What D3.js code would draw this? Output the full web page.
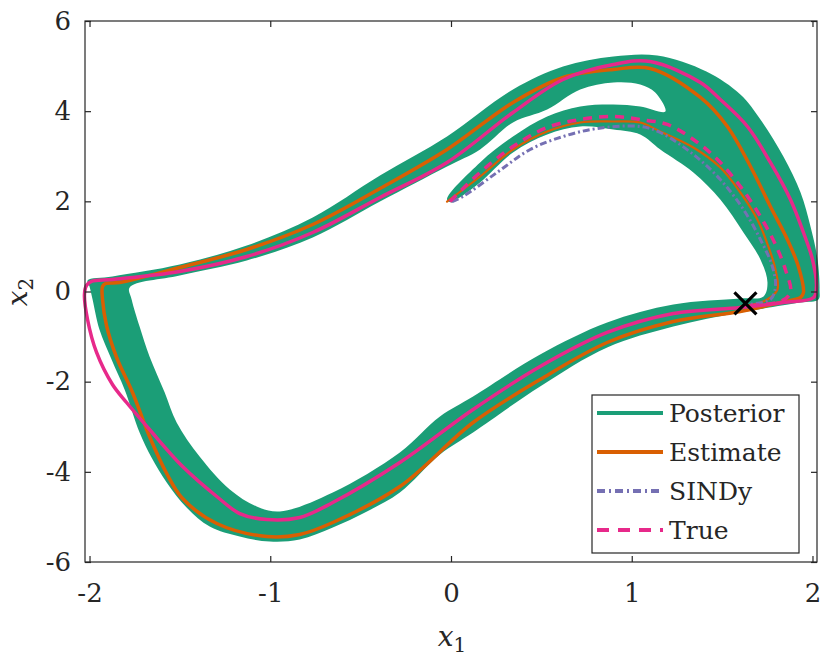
<!DOCTYPE html>
<html>
<head>
<meta charset="utf-8">
<script src="https://cdn.jsdelivr.net/npm/d3@7"></script>
<style>
body { margin: 0; background: #fff; }
text { font-family: "DejaVu Serif", serif; fill: #262626; }
</style>
</head>
<body>
<script>
var width = 830, height = 659;

// axis ticks
const xTicks = [-2, -1, 0, 1, 2];
const yTicks = [-6, -4, -2, 0, 2, 4, 6];

// posterior band: outer edge and the hole inside it (x1, x2)
const posteriorOuter = [
	[-2.011, 0.244], [-1.873, 0.333], [-1.501, 0.599], [-1.130, 1.020], [-0.765, 1.642],
	[-0.393, 2.573], [-0.022, 3.438], [0.343, 4.481], [0.620, 4.991], [0.898, 5.213],
	[1.141, 5.235], [1.413, 4.880], [1.601, 4.370], [1.712, 3.815], [1.839, 2.995],
	[1.934, 2.196], [1.989, 1.442], [2.028, 0.710], [2.039, 0.044], [2.033, -0.177],
	[1.934, -0.244], [1.601, -0.466], [1.230, -0.776], [0.864, -1.242], [0.493, -2.107],
	[0.122, -3.128], [-0.061, -3.616], [-0.283, -4.459], [-0.465, -4.880], [-0.654, -5.235],
	[-0.837, -5.501], [-1.003, -5.546], [-1.169, -5.435], [-1.335, -5.213], [-1.463, -4.791],
	[-1.573, -4.237], [-1.657, -3.682], [-1.723, -3.128], [-1.806, -2.174], [-1.878, -1.508],
	[-1.945, -0.843], [-1.983, -0.177], [-2.000, 0.111]
];
const posteriorHole = [
	[-1.778, 0.089], [-1.501, 0.355], [-1.130, 0.688], [-0.765, 1.198], [-0.393, 1.996],
	[-0.022, 2.773], [0.161, 3.150], [0.343, 3.749], [0.532, 4.037], [0.715, 4.481],
	[0.898, 4.636], [1.047, 4.592], [1.130, 4.414], [1.186, 3.993],
	[1.047, 4.104], [0.898, 4.148], [0.715, 4.104], [0.532, 3.882], [0.343, 3.438],
	[0.161, 2.862], [-0.022, 2.041], [0.006, 1.974],
	[0.033, 2.041], [0.161, 2.418], [0.343, 3.083], [0.532, 3.483], [0.715, 3.660],
	[0.898, 3.594], [1.047, 3.483], [1.158, 3.150], [1.341, 2.640], [1.490, 2.041],
	[1.618, 1.309], [1.712, 0.710], [1.751, 0.200], [1.729, -0.111],
	[1.601, -0.155], [1.230, -0.288], [0.864, -0.688], [0.493, -1.398], [0.122, -2.329],
	[-0.061, -2.773], [-0.283, -3.571], [-0.654, -4.459], [-0.947, -4.880], [-1.075, -4.769],
	[-1.224, -4.392], [-1.391, -3.660], [-1.518, -2.906], [-1.584, -2.240], [-1.668, -1.442],
	[-1.723, -0.776], [-1.767, -0.177]
];

// estimate: first pass from (0,2), then the settled cycle
const estimateTransient = [
	[-0.022, 1.996], [0.161, 2.551], [0.343, 3.150], [0.532, 3.549], [0.715, 3.749],
	[0.898, 3.771], [1.047, 3.749], [1.158, 3.549], [1.341, 3.194], [1.490, 2.751],
	[1.601, 2.196], [1.695, 1.597], [1.756, 0.998], [1.795, 0.488], [1.806, 0.044],
	[1.740, -0.200], [1.601, -0.333]
];
const estimateCycle = [
	[-1.911, 0.177], [-1.834, 0.200], [-1.501, 0.532], [-1.130, 0.932], [-0.765, 1.486],
	[-0.393, 2.285], [-0.022, 3.150], [0.343, 4.193], [0.620, 4.747], [0.898, 4.925],
	[1.102, 4.947], [1.380, 4.304], [1.529, 3.660], [1.657, 2.773], [1.767, 1.886],
	[1.861, 1.153], [1.922, 0.555], [1.950, -0.022], [1.934, -0.133], [1.823, -0.244],
	[1.601, -0.444], [1.230, -0.665], [0.864, -1.131], [0.493, -1.952], [0.122, -2.906],
	[-0.283, -4.326], [-0.654, -5.124], [-0.837, -5.390], [-1.019, -5.435], [-1.296, -5.146],
	[-1.485, -4.592], [-1.573, -4.037], [-1.668, -3.217], [-1.762, -2.240], [-1.850, -1.464],
	[-1.906, -0.754], [-1.928, -0.177], [-1.928, 0.111]
];

// SINDy first pass
const sindyTransient = [
	[0.006, 1.996], [0.066, 2.107], [0.255, 2.640], [0.438, 3.150], [0.620, 3.438],
	[0.809, 3.616], [1.047, 3.660], [1.158, 3.527], [1.341, 3.039], [1.490, 2.484],
	[1.618, 1.819], [1.712, 1.153], [1.778, 0.555], [1.795, 0.111], [1.767, -0.177],
	[1.629, -0.288]
];

// true system
const trueTransient = [
	[-0.006, 1.996], [0.161, 2.640], [0.343, 3.216], [0.532, 3.638], [0.715, 3.815],
	[0.898, 3.882], [1.047, 3.815], [1.197, 3.705], [1.341, 3.372], [1.463, 2.973],
	[1.562, 2.529], [1.645, 2.085], [1.728, 1.553], [1.795, 1.043], [1.850, 0.488],
	[1.878, -0.022], [1.823, -0.222], [1.629, -0.311]
];
const trueCycle = [
	[-1.989, 0.222], [-1.873, 0.266], [-1.501, 0.444], [-1.130, 0.776], [-0.765, 1.309],
	[-0.393, 2.085], [-0.022, 2.862], [0.343, 3.971], [0.620, 4.703], [0.898, 5.036],
	[1.102, 5.102], [1.380, 4.636], [1.490, 4.259], [1.640, 3.660], [1.767, 2.862],
	[1.878, 2.041], [1.950, 1.309], [2.000, 0.710], [2.022, 0.111], [2.006, -0.133],
	[1.839, -0.244], [1.601, -0.355], [1.230, -0.488], [0.864, -0.909], [0.493, -1.664],
	[0.122, -2.618], [-0.283, -3.793], [-0.654, -4.681], [-0.837, -5.013], [-1.019, -5.058],
	[-1.169, -4.925], [-1.296, -4.547], [-1.485, -3.882], [-1.668, -3.061], [-1.795, -2.462],
	[-1.873, -2.063], [-1.961, -1.353], [-2.011, -0.621], [-2.028, -0.067], [-2.017, 0.133]
];

const marker = [1.629, -0.266];

const legendNames = ["Posterior", "Estimate", "SINDy", "True"];
const legendColors = ["#1b9e77", "#d95f02", "#7570b3", "#e7298a"];
const legendDash = [null, null, "8,4,2,4", "12,9"];

var svg = d3.select("body").append("svg")
	.attr("width", width)
	.attr("height", height);

var x = d3.scaleLinear().domain([-2.025, 2.025]).range([85, 817]);
var y = d3.scaleLinear().domain([-6, 6]).range([562, 21]);

var line = d3.line()
	.x(function(d) { return x(d[0]); })
	.y(function(d) { return y(d[1]); })
	.curve(d3.curveCatmullRom.alpha(0.5));

var loop = d3.line()
	.x(function(d) { return x(d[0]); })
	.y(function(d) { return y(d[1]); })
	.curve(d3.curveCatmullRomClosed.alpha(0.5));

// posterior band
svg.append("path")
	.attr("d", loop(posteriorOuter) + loop(posteriorHole))
	.attr("fill", legendColors[0])
	.attr("fill-rule", "evenodd");

// estimate
svg.append("path").attr("d", loop(estimateCycle))
	.attr("fill", "none").attr("stroke", legendColors[1]).attr("stroke-width", 3.5);
svg.append("path").attr("d", line(estimateTransient))
	.attr("fill", "none").attr("stroke", legendColors[1]).attr("stroke-width", 2.2)
	.attr("stroke-linecap", "round");

// SINDy
svg.append("path").attr("d", line(sindyTransient))
	.attr("fill", "none").attr("stroke", legendColors[2]).attr("stroke-width", 3)
	.attr("stroke-dasharray", "7,3,2,3");

// true
svg.append("path").attr("d", loop(trueCycle))
	.attr("fill", "none").attr("stroke", legendColors[3]).attr("stroke-width", 3.5);
svg.append("path").attr("d", line(trueTransient))
	.attr("fill", "none").attr("stroke", legendColors[3]).attr("stroke-width", 3.5)
	.attr("stroke-dasharray", "9,7");

// marker
var mx = x(marker[0]), my = y(marker[1]), r = 11;
svg.append("path")
	.attr("d", "M" + (mx - r) + "," + (my - r) + "L" + (mx + r) + "," + (my + r) +
		"M" + (mx - r) + "," + (my + r) + "L" + (mx + r) + "," + (my - r))
	.attr("stroke", "#000").attr("stroke-width", 3.2);

// axes (box with inward ticks)
function styleAxis(g) {
	g.select(".domain").remove();
	g.selectAll(".tick line").attr("stroke", "#262626").attr("stroke-width", 1.2);
	g.selectAll(".tick text").attr("font-size", 26).attr("fill", "#262626")
		.attr("font-family", "DejaVu Serif");
}
var fmt = function(d) { return String(d); };

svg.append("g").attr("transform", "translate(0,562)")
	.call(d3.axisBottom(x).tickValues(xTicks).tickFormat(fmt).tickSizeInner(-6).tickSizeOuter(0).tickPadding(22))
	.call(styleAxis);
svg.append("g").attr("transform", "translate(0,21)")
	.call(d3.axisTop(x).tickValues(xTicks).tickFormat("").tickSizeInner(-6).tickSizeOuter(0))
	.call(styleAxis);
svg.append("g").attr("transform", "translate(85,0)")
	.call(d3.axisLeft(y).tickValues(yTicks).tickFormat(fmt).tickSizeInner(-6).tickSizeOuter(0).tickPadding(14))
	.call(styleAxis);
svg.append("g").attr("transform", "translate(817,0)")
	.call(d3.axisRight(y).tickValues(yTicks).tickFormat("").tickSizeInner(-6).tickSizeOuter(0))
	.call(styleAxis);

svg.append("rect")
	.attr("x", 85).attr("y", 21).attr("width", 732).attr("height", 541)
	.attr("fill", "none").attr("stroke", "#262626").attr("stroke-width", 1.2);

// axis labels
var xl = svg.append("text").attr("x", 452).attr("y", 646).attr("text-anchor", "middle")
	.attr("font-size", 28);
xl.append("tspan").attr("font-style", "italic").text("x");
xl.append("tspan").attr("font-size", 20).attr("dy", 6).text("1");

var yl = svg.append("text").attr("transform", "translate(27,292) rotate(-90)")
	.attr("text-anchor", "middle").attr("font-size", 28);
yl.append("tspan").attr("font-style", "italic").text("x");
yl.append("tspan").attr("font-size", 20).attr("dy", 6).text("2");

// legend
var legend = svg.append("g");
legend.append("rect")
	.attr("x", 592).attr("y", 395).attr("width", 207).attr("height", 158)
	.attr("fill", "#fff").attr("stroke", "#262626").attr("stroke-width", 1.2);
var rows = legend.selectAll("g.row").data(legendNames).enter().append("g")
	.attr("class", "row")
	.attr("transform", function(d, i) { return "translate(0," + (413 + i * 39) + ")"; });
rows.append("line")
	.attr("x1", 597).attr("x2", 663)
	.attr("stroke", function(d, i) { return legendColors[i]; })
	.attr("stroke-width", 4)
	.attr("stroke-dasharray", function(d, i) { return legendDash[i]; });
rows.append("text")
	.attr("x", 669).attr("y", 9)
	.attr("font-size", 25)
	.attr("fill", "#111")
	.text(function(d) { return d; });
</script>
</body>
</html>
